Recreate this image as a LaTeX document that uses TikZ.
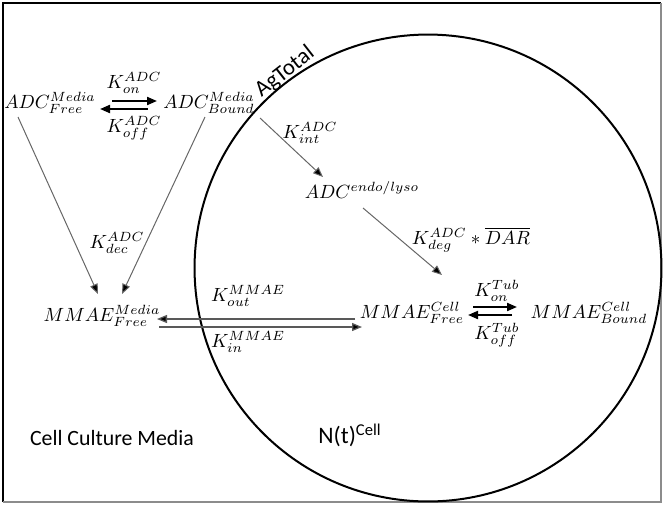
\documentclass[tikz,border=0pt]{standalone}
\usepackage{fontspec}
\newfontfamily\carlito{Carlito}
\usetikzlibrary{arrows.meta}
\begin{document}
\begin{tikzpicture}[x=0.55pt,y=-0.55pt,
  lbl/.style={inner sep=0pt,font=\normalsize,scale=1.05},
  sanslbl/.style={inner sep=0pt,font=\carlito\fontsize{12.5}{14}\selectfont},
  bind/.style={line width=1.1pt,-{Triangle[length=5.5pt,width=4.4pt]}},
  flow/.style={line width=0.55pt,draw=black!60,-{Triangle[length=5.5pt,width=4.4pt,fill=black]}},
  trans/.style={line width=0.7pt,draw=black!65,-{Triangle[length=5.5pt,width=4.4pt,fill=black]}}]
\useasboundingbox (0,0) rectangle (664,504);
% frame
\draw[line width=0.9pt,black] (3,502) -- (3,3) -- (661,3);
\draw[line width=0.7pt,black!45] (661,3) -- (661,502) -- (3,502);
% cell
\coordinate (cellc) at (428,268);
\draw[line width=1.1pt] (cellc) circle[radius=128.4pt];
\node[sanslbl,rotate=38] (agtotal) at (285,72) {AgTotal};
% species
\node[lbl] (afree) at (50,103) {$ADC_{Free}^{Media}$};
\node[lbl] (abound) at (209,103) {$ADC_{Bound}^{Media}$};
\node[lbl] (kon) at (134,83) {$K_{on}^{ADC}$};
\node[lbl] (koff) at (134,128) {$K_{off}^{ADC}$};
\node[lbl] (kint) at (310,133) {$K_{int}^{ADC}$};
\node[lbl] (endo) at (362,190) {$ADC^{endo/lyso}$};
\node[lbl] (kdeg) at (471,240) {$K_{deg}^{ADC}\ast\overline{DAR}$};
\node[lbl] (cfree) at (412,313) {$MMAE_{Free}^{Cell}$};
\node[lbl] (cbound) at (589,313) {$MMAE_{Bound}^{Cell}$};
\node[lbl] (kontub) at (497,291) {$K_{on}^{Tub}$};
\node[lbl] (kofftub) at (497,335) {$K_{off}^{Tub}$};
\node[lbl] (mfree) at (102,316) {$MMAE_{Free}^{Media}$};
\node[lbl] (kout) at (248,296) {$K_{out}^{MMAE}$};
\node[lbl] (kin) at (248,342) {$K_{in}^{MMAE}$};
\node[lbl] (kdec) at (117,243) {$K_{dec}^{ADC}$};
\node[sanslbl,font=\carlito\fontsize{12}{14}\selectfont] (media) at (112,438) {Cell Culture Media};
\node[sanslbl,font=\carlito\fontsize{13}{15}\selectfont] (nt) at (350,435) {N(t)\textsuperscript{Cell}};
% connector end points
\coordinate (on1) at (112,101); \coordinate (on2) at (157,101);
\coordinate (off1) at (148,109); \coordinate (off2) at (100,109);
\coordinate (int1) at (260,118); \coordinate (int2) at (323,177);
\coordinate (deg1) at (363,208); \coordinate (deg2) at (442,275);
\coordinate (ton1) at (473,307); \coordinate (ton2) at (517,307);
\coordinate (toff1) at (512,315); \coordinate (toff2) at (468,315);
\coordinate (out1) at (355,319); \coordinate (out2) at (157,319);
\coordinate (in1) at (159,327); \coordinate (in2) at (362,327);
\coordinate (dec1a) at (18,117); \coordinate (dec1b) at (98,294);
\coordinate (dec2a) at (205,117); \coordinate (dec2b) at (122,294);
% connectors
\draw[bind] (on1) -- (on2);
\draw[bind] (off1) -- (off2);
\draw[flow] (int1) -- (int2);
\draw[flow] (deg1) -- (deg2);
\draw[bind] (ton1) -- (ton2);
\draw[bind] (toff1) -- (toff2);
\draw[trans] (out1) -- (out2);
\draw[trans] (in1) -- (in2);
\draw[flow] (dec1a) -- (dec1b);
\draw[flow] (dec2a) -- (dec2b);
\end{tikzpicture}
\end{document}
